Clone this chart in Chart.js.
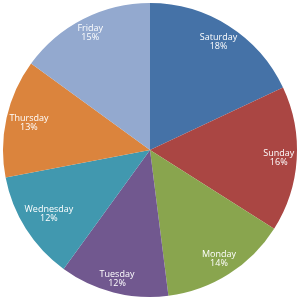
<!DOCTYPE html>
<html>
<head>
<meta charset="utf-8">
<script src="https://cdn.jsdelivr.net/npm/chart.js@4/dist/chart.umd.min.js"></script>
<style>
html,body{margin:0;padding:0;background:#fff;}
#wrap{width:300px;height:300px;}
</style>
</head>
<body>
<div id="wrap"><canvas id="c" width="300" height="300"></canvas></div>
<script>
const categories = ["Saturday","Sunday","Monday","Tuesday","Wednesday","Thursday","Friday"];
const values = [18,16,14,12,12,13,15];
const colors = ["#4572a7","#aa4643","#89a54e","#71588f","#4198af","#db843d","#93a9cf"];

const labelPlugin = {
  id: 'sliceLabels',
  afterDatasetsDraw(chart) {
    const ctx = chart.ctx;
    const meta = chart.getDatasetMeta(0);
    const total = values.reduce((a,b)=>a+b,0);
    ctx.save();
    ctx.fillStyle = '#ffffff';
    ctx.font = '9px "Open Sans", sans-serif';
    ctx.textAlign = 'center';
    ctx.textBaseline = 'middle';
    meta.data.forEach((arc, i) => {
      const p = arc.getProps(['x','y','startAngle','endAngle','outerRadius'], true);
      const mid = (p.startAngle + p.endAngle) / 2;
      const pct = Math.round(values[i] / total * 100) + '%';
      const w = Math.max(ctx.measureText(categories[i]).width, ctx.measureText(pct).width) + 2;
      const h = 18;
      const c = Math.cos(mid), s = Math.sin(mid);
      const proj = Math.abs(c) * w / 2 + Math.abs(s) * h / 2;
      const r = p.outerRadius - 1 - proj;
      const x = p.x + c * r;
      const y = p.y + s * r;
      ctx.fillText(categories[i], x, y - 4.5);
      ctx.fillText(pct, x, y + 4.5);
    });
    ctx.restore();
  }
};

new Chart(document.getElementById('c'), {
  type: 'pie',
  data: {
    labels: categories,
    datasets: [{
      data: values,
      backgroundColor: colors,
      borderWidth: 0
    }]
  },
  options: {
    responsive: false,
    animation: false,
    layout: { padding: 3 },
    plugins: {
      legend: { display: false },
      tooltip: { enabled: false }
    }
  },
  plugins: [labelPlugin]
});
</script>
</body>
</html>
